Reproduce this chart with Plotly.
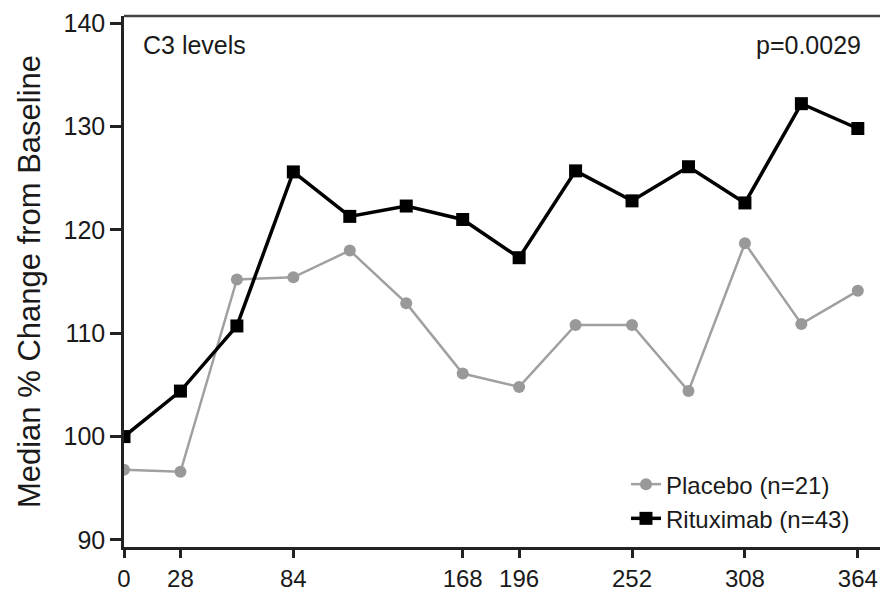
import plotly.graph_objects as go

days = [0, 28, 56, 84, 112, 140, 168, 196, 224, 252, 280, 308, 336, 364]
tick_days = [0, 28, 84, 168, 196, 252, 308, 364]
tick_labels = ["0", "28", "84", "168", "196", "252", "308", "364"]
y_ticks = [90, 100, 110, 120, 130, 140]

placebo = [96.8, 96.6, 115.2, 115.4, 118.0, 112.9, 106.1, 104.8, 110.8, 110.8, 104.4, 118.7, 110.9, 114.1]
rituximab = [100.0, 104.4, 110.7, 125.6, 121.3, 122.3, 121.0, 117.3, 125.7, 122.8, 126.1, 122.6, 132.2, 129.8]

FONT = "Liberation Sans, Arial, Helvetica, sans-serif"

fig = go.Figure()
fig.add_trace(go.Scatter(
    x=days, y=placebo, mode="lines+markers", name="Placebo (n=21)",
    line=dict(color="#a0a0a0", width=2.5),
    marker=dict(symbol="circle", size=12, color="#999999"),
))
fig.add_trace(go.Scatter(
    x=days, y=rituximab, mode="lines+markers", name="Rituximab (n=43)",
    line=dict(color="#000000", width=3.5),
    marker=dict(symbol="square", size=13, color="#000000"),
))

fig.update_layout(
    width=880, height=591,
    margin=dict(l=124, r=0, t=16, b=44),
    paper_bgcolor="white", plot_bgcolor="white",
    font=dict(family=FONT, color="#1a1a1a"),
    showlegend=True,
    legend=dict(
        x=0.664, y=0.16, xanchor="left", yanchor="top",
        bgcolor="rgba(0,0,0,0)", font=dict(size=24, color="#1a1a1a"),
        tracegroupgap=0, itemwidth=30,
    ),
    xaxis=dict(
        range=[0, 375], tickmode="array", tickvals=tick_days, ticktext=tick_labels,
        showline=True, linecolor="#222222", linewidth=2.5, mirror=False,
        ticks="outside", ticklen=8, tickwidth=2.5, tickcolor="#222222",
        showgrid=False, zeroline=False, automargin=False,
        tickfont=dict(size=24, color="#1a1a1a"),
    ),
    yaxis=dict(
        range=[89.32, 140.68], tickmode="array", tickvals=y_ticks,
        showline=True, linecolor="#222222", linewidth=2.5, mirror=False,
        ticks="outside", ticklen=11, tickwidth=2.5, tickcolor="#222222",
        showgrid=False, zeroline=False, automargin=False,
        tickfont=dict(size=25, color="#1a1a1a"),
        title=dict(text="Median % Change from Baseline", font=dict(size=31, color="#1a1a1a"), standoff=14),
    ),
    shapes=[
        dict(type="line", xref="paper", yref="paper", x0=0, x1=1, y0=1, y1=1,
             line=dict(color="#444444", width=2.5)),
    ],
    annotations=[
        dict(text="C3 levels", xref="paper", yref="paper", x=0.0225, y=0.945,
             xanchor="left", yanchor="middle", showarrow=False,
             font=dict(size=25, color="#1a1a1a")),
        dict(text="p=0.0029", xref="paper", yref="paper", x=0.9775, y=0.945,
             xanchor="right", yanchor="middle", showarrow=False,
             font=dict(size=25, color="#1a1a1a")),
    ],
)

fig.write_html(
    "out.html",
    config={"displayModeBar": False},
    post_script="document.body.style.margin='0';document.body.style.overflow='hidden';",
)
